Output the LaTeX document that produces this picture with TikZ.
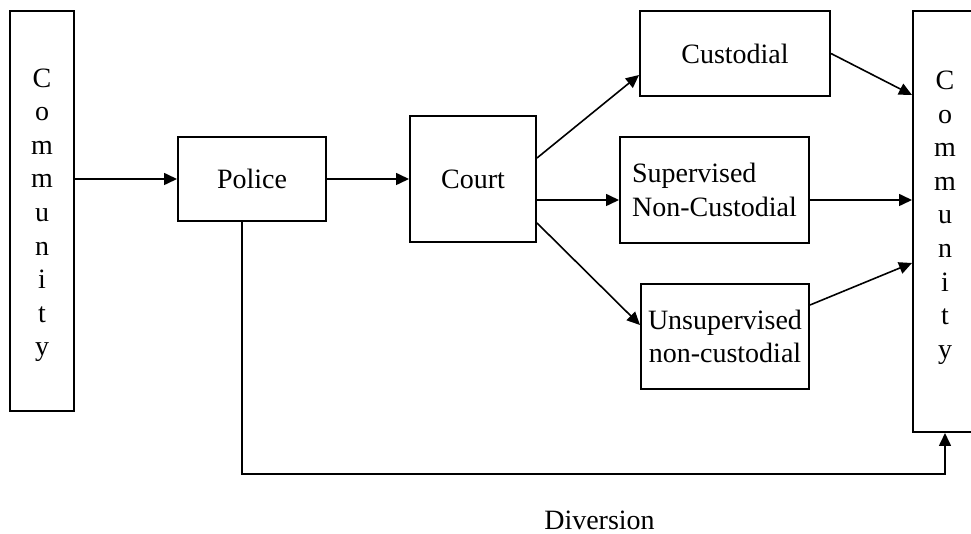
\documentclass[tikz,border=0pt]{standalone}
\usepackage{fontspec}
\setmainfont{Liberation Serif}
\usetikzlibrary{arrows.meta}
\newcommand{\commletters}{\begin{tabular}{@{}c@{}}C\\o\\m\\m\\u\\n\\i\\t\\y\end{tabular}}

\begin{document}
\begin{tikzpicture}
         [x=0.5pt,y=-0.5pt,every node/.style={font=\fontsize{14}{16.8}\selectfont},
          box/.style={draw,line width=1pt,inner sep=0pt,align=center},
          arr/.style={line width=0.8pt,-{Triangle[length=6.5pt,width=6pt]}}]
         \useasboundingbox (0,0) rectangle (971,534);
         \node[box,minimum width=32pt,minimum height=200pt] (comml) at (42,211)
            {\raisebox{0pt}[\dimexpr\height+3.8pt\relax][\depth]{\commletters}};
         % right box runs past the page edge
         \node[box,minimum width=40pt,minimum height=210.5pt] (commr) at (953,221.5)
            {\raisebox{0pt}[\height][\dimexpr\depth+4.4pt\relax]{\commletters\hspace{8pt}}};
         \node[box,minimum width=74pt,minimum height=42pt] (police) at (252,179) {Police};
         \node[box,minimum width=63pt,minimum height=63pt] (court) at (473,179) {Court};
         \node[box,minimum width=95pt,minimum height=42.5pt] (cust) at (735,53.5) {Custodial};
         \node[box,align=left,minimum width=94.5pt,minimum height=53pt] (sup) at (714.5,190)
            {Supervised\\Non-Custodial};
         \node[box,minimum width=84pt,minimum height=52.5pt] (unsup) at (725,336.5)
            {Unsupervised\\non-custodial};
         \node (div) at (599.5,520.5) {Diversion};
         \draw[arr] ([yshift=16pt]comml.east) -- (police.west);
         \draw[arr] (police.east) -- (court.west);
         \draw[arr] ([yshift=10.5pt]court.east) -- ([yshift=-10.75pt]cust.west);
         \draw[arr] ([yshift=-10.5pt]court.east) -- ([yshift=-5pt]sup.west);
         \draw[arr] ([yshift=-22pt]court.east) -- ([yshift=5.75pt]unsup.west);
         \draw[arr] (cust.east) -- ([yshift=63.25pt]commr.west);
         \draw[arr] ([yshift=-5pt]sup.east) -- ([yshift=10.75pt]commr.west);
         \draw[arr] ([yshift=15.75pt]unsup.east) -- ([yshift=-20.75pt]commr.west);
         \draw[arr] ([xshift=-5pt]police.south) |- ([yshift=-20.5pt,xshift=-4pt]commr.south) -- ([xshift=-4pt]commr.south);
       \end{tikzpicture}
\end{document}
